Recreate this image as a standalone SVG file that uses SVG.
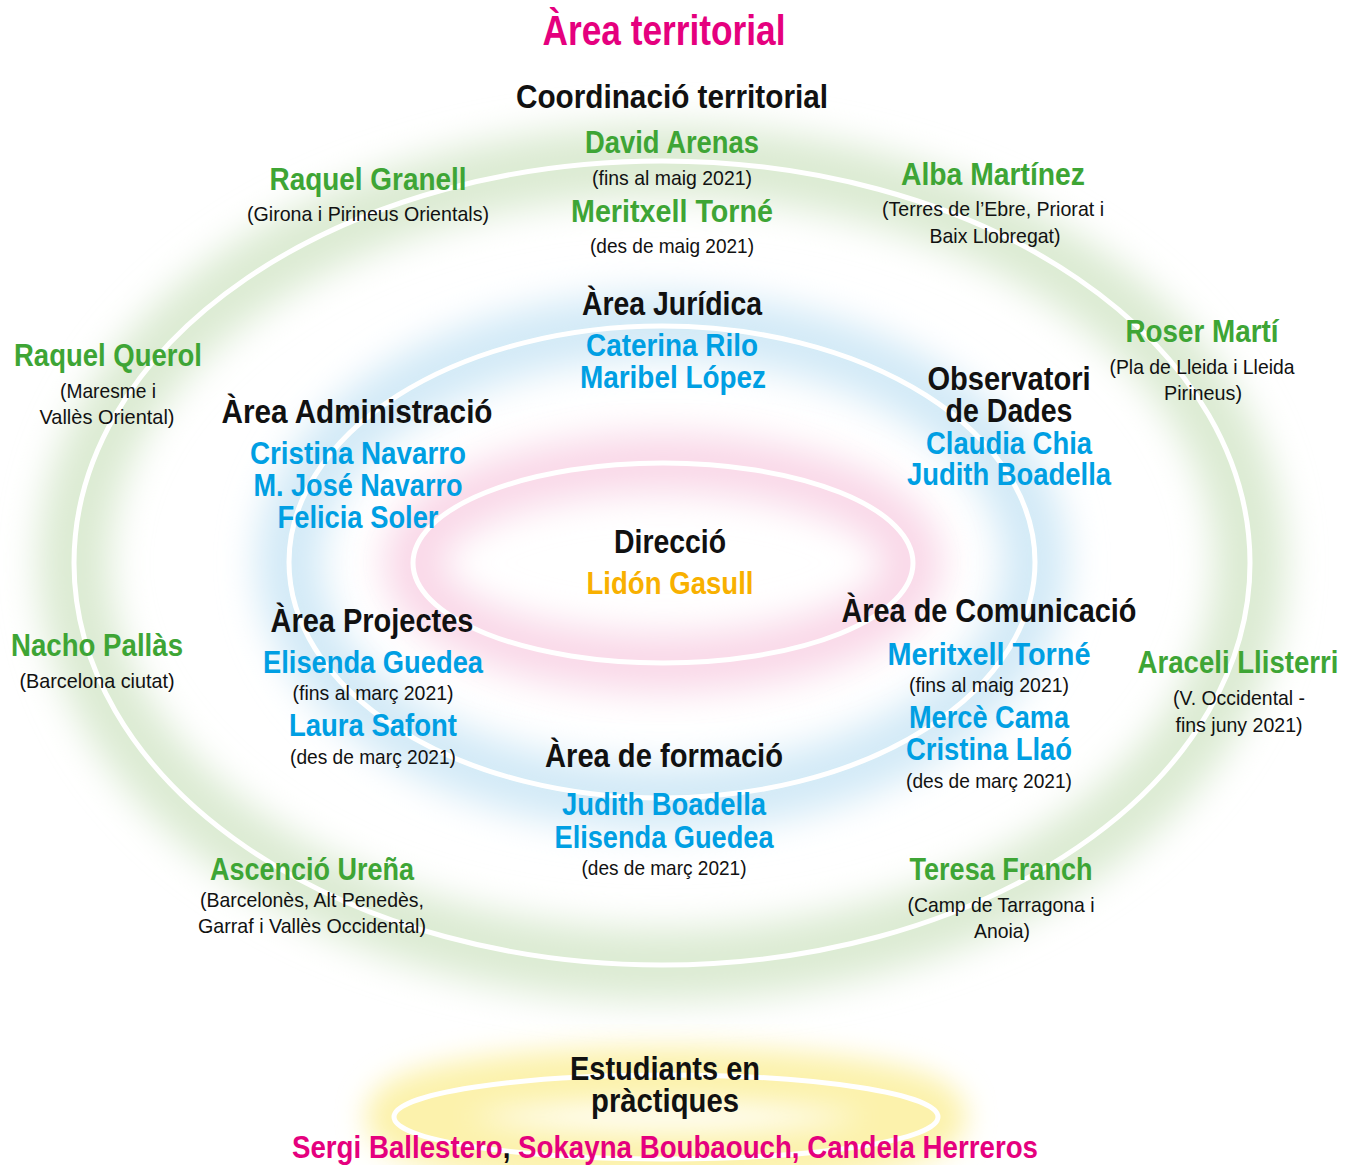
<svg xmlns="http://www.w3.org/2000/svg" width="1357" height="1165" viewBox="0 0 1357 1165">
<defs>
<filter id="glow" x="-30%" y="-30%" width="160%" height="160%"><feGaussianBlur stdDeviation="18"/></filter>
<filter id="glowS" x="-30%" y="-60%" width="160%" height="220%"><feGaussianBlur stdDeviation="14"/></filter>
</defs>
<style>
text{font-family:"Liberation Sans",Arial,sans-serif;text-anchor:middle}
.ti{font-size:43px;font-weight:700;fill:#e5007e}
.h{font-size:34px;font-weight:700;fill:#111}
.n{font-size:32px;font-weight:700}
.g{fill:#3ea535}
.b{fill:#009fe3}
.o{fill:#f8b000}
.p{fill:#e5007e}
.k{fill:#111}
.s{font-size:21px;fill:#111}
.ring{fill:none;stroke:#fff;stroke-width:5}
</style>
<rect width="1357" height="1165" fill="#fff"/>
<g id="rings">
<ellipse cx="662" cy="563" rx="588" ry="402" fill="none" stroke="#dcebd3" stroke-width="72" filter="url(#glow)"/>
<ellipse cx="662" cy="562" rx="373" ry="236" fill="none" stroke="#d3eaf7" stroke-width="66" filter="url(#glow)"/>
<ellipse cx="663" cy="563" rx="250" ry="100" fill="none" stroke="#f9d8e8" stroke-width="58" filter="url(#glow)"/>
<ellipse cx="666" cy="1117" rx="272" ry="42" fill="none" stroke="#fcf2ac" stroke-width="56" filter="url(#glowS)"/>
<ellipse class="ring" cx="662" cy="563" rx="588" ry="402"/>
<ellipse class="ring" cx="662" cy="562" rx="373" ry="236"/>
<ellipse class="ring" cx="663" cy="563" rx="250" ry="100"/>
<ellipse class="ring" cx="666" cy="1117" rx="272" ry="42"/>
</g>
<g id="title"><text class="ti" x="664" y="45" textLength="243" lengthAdjust="spacingAndGlyphs">Àrea territorial</text></g>
<g id="coordinacio">
<text class="h" x="672" y="108" textLength="312" lengthAdjust="spacingAndGlyphs">Coordinació territorial</text>
<text class="n g" x="672" y="153" textLength="174" lengthAdjust="spacingAndGlyphs">David Arenas</text>
<text class="s" x="672" y="185" textLength="160" lengthAdjust="spacingAndGlyphs">(fins al maig 2021)</text>
<text class="n g" x="672" y="222" textLength="202" lengthAdjust="spacingAndGlyphs">Meritxell Torné</text>
<text class="s" x="672" y="253" textLength="164" lengthAdjust="spacingAndGlyphs">(des de maig 2021)</text>
</g>
<g id="granell">
<text class="n g" x="368" y="190" textLength="197" lengthAdjust="spacingAndGlyphs">Raquel Granell</text>
<text class="s" x="368" y="221" textLength="242" lengthAdjust="spacingAndGlyphs">(Girona i Pirineus Orientals)</text>
</g>
<g id="martinez">
<text class="n g" x="993" y="185" textLength="184" lengthAdjust="spacingAndGlyphs">Alba Martínez</text>
<text class="s" x="993" y="216" textLength="222" lengthAdjust="spacingAndGlyphs">(Terres de l’Ebre, Priorat i</text>
<text class="s" x="995" y="243" textLength="131" lengthAdjust="spacingAndGlyphs">Baix Llobregat)</text>
</g>
<g id="juridica">
<text class="h" x="672" y="315" textLength="180" lengthAdjust="spacingAndGlyphs">Àrea Jurídica</text>
<text class="n b" x="672" y="356" textLength="172" lengthAdjust="spacingAndGlyphs">Caterina Rilo</text>
<text class="n b" x="673" y="388" textLength="186" lengthAdjust="spacingAndGlyphs">Maribel López</text>
</g>
<g id="marti">
<text class="n g" x="1202" y="342" textLength="153" lengthAdjust="spacingAndGlyphs">Roser Martí</text>
<text class="s" x="1202" y="374" textLength="185" lengthAdjust="spacingAndGlyphs">(Pla de Lleida i Lleida</text>
<text class="s" x="1203" y="400" textLength="78" lengthAdjust="spacingAndGlyphs">Pirineus)</text>
</g>
<g id="querol">
<text class="n g" x="108" y="366" textLength="188" lengthAdjust="spacingAndGlyphs">Raquel Querol</text>
<text class="s" x="108" y="398" textLength="96" lengthAdjust="spacingAndGlyphs">(Maresme i</text>
<text class="s" x="107" y="424" textLength="135" lengthAdjust="spacingAndGlyphs">Vallès Oriental)</text>
</g>
<g id="administracio">
<text class="h" x="357" y="423" textLength="271" lengthAdjust="spacingAndGlyphs">Àrea Administració</text>
<text class="n b" x="358" y="464" textLength="216" lengthAdjust="spacingAndGlyphs">Cristina Navarro</text>
<text class="n b" x="358" y="496" textLength="209" lengthAdjust="spacingAndGlyphs">M. José Navarro</text>
<text class="n b" x="358" y="528" textLength="161" lengthAdjust="spacingAndGlyphs">Felicia Soler</text>
</g>
<g id="observatori">
<text class="h" x="1009" y="390" textLength="163" lengthAdjust="spacingAndGlyphs">Observatori</text>
<text class="h" x="1009" y="422" textLength="127" lengthAdjust="spacingAndGlyphs">de Dades</text>
<text class="n b" x="1009" y="454" textLength="166" lengthAdjust="spacingAndGlyphs">Claudia Chia</text>
<text class="n b" x="1009" y="485" textLength="204" lengthAdjust="spacingAndGlyphs">Judith Boadella</text>
</g>
<g id="direccio">
<text class="h" x="670" y="553" textLength="112" lengthAdjust="spacingAndGlyphs">Direcció</text>
<text class="n o" x="670" y="594" textLength="167" lengthAdjust="spacingAndGlyphs">Lidón Gasull</text>
</g>
<g id="projectes">
<text class="h" x="372" y="632" textLength="203" lengthAdjust="spacingAndGlyphs">Àrea Projectes</text>
<text class="n b" x="373" y="673" textLength="220" lengthAdjust="spacingAndGlyphs">Elisenda Guedea</text>
<text class="s" x="373" y="700" textLength="161" lengthAdjust="spacingAndGlyphs">(fins al març 2021)</text>
<text class="n b" x="373" y="736" textLength="168" lengthAdjust="spacingAndGlyphs">Laura Safont</text>
<text class="s" x="373" y="764" textLength="166" lengthAdjust="spacingAndGlyphs">(des de març 2021)</text>
</g>
<g id="comunicacio">
<text class="h" x="989" y="622" textLength="295" lengthAdjust="spacingAndGlyphs">Àrea de Comunicació</text>
<text class="n b" x="989" y="665" textLength="203" lengthAdjust="spacingAndGlyphs">Meritxell Torné</text>
<text class="s" x="989" y="692" textLength="160" lengthAdjust="spacingAndGlyphs">(fins al maig 2021)</text>
<text class="n b" x="989" y="728" textLength="160" lengthAdjust="spacingAndGlyphs">Mercè Cama</text>
<text class="n b" x="989" y="760" textLength="166" lengthAdjust="spacingAndGlyphs">Cristina Llaó</text>
<text class="s" x="989" y="788" textLength="166" lengthAdjust="spacingAndGlyphs">(des de març 2021)</text>
</g>
<g id="pallas">
<text class="n g" x="97" y="656" textLength="172" lengthAdjust="spacingAndGlyphs">Nacho Pallàs</text>
<text class="s" x="97" y="688" textLength="155" lengthAdjust="spacingAndGlyphs">(Barcelona ciutat)</text>
</g>
<g id="llisterri">
<text class="n g" x="1238" y="673" textLength="201" lengthAdjust="spacingAndGlyphs">Araceli Llisterri</text>
<text class="s" x="1239" y="705" textLength="132" lengthAdjust="spacingAndGlyphs">(V. Occidental -</text>
<text class="s" x="1239" y="732" textLength="127" lengthAdjust="spacingAndGlyphs">fins juny 2021)</text>
</g>
<g id="formacio">
<text class="h" x="664" y="767" textLength="238" lengthAdjust="spacingAndGlyphs">Àrea de formació</text>
<text class="n b" x="664" y="815" textLength="204" lengthAdjust="spacingAndGlyphs">Judith Boadella</text>
<text class="n b" x="664" y="848" textLength="219" lengthAdjust="spacingAndGlyphs">Elisenda Guedea</text>
<text class="s" x="664" y="875" textLength="165" lengthAdjust="spacingAndGlyphs">(des de març 2021)</text>
</g>
<g id="urena">
<text class="n g" x="312" y="880" textLength="204" lengthAdjust="spacingAndGlyphs">Ascenció Ureña</text>
<text class="s" x="312" y="907" textLength="224" lengthAdjust="spacingAndGlyphs">(Barcelonès, Alt Penedès,</text>
<text class="s" x="312" y="933" textLength="228" lengthAdjust="spacingAndGlyphs">Garraf i Vallès Occidental)</text>
</g>
<g id="franch">
<text class="n g" x="1001" y="880" textLength="183" lengthAdjust="spacingAndGlyphs">Teresa Franch</text>
<text class="s" x="1001" y="912" textLength="187" lengthAdjust="spacingAndGlyphs">(Camp de Tarragona i</text>
<text class="s" x="1002" y="938" textLength="56" lengthAdjust="spacingAndGlyphs">Anoia)</text>
</g>
<g id="estudiants">
<text class="h" x="665" y="1080" textLength="190" lengthAdjust="spacingAndGlyphs">Estudiants en</text>
<text class="h" x="665" y="1112" textLength="148" lengthAdjust="spacingAndGlyphs">pràctiques</text>
<text class="n p" x="665" y="1158" textLength="746" lengthAdjust="spacingAndGlyphs">Sergi Ballestero<tspan class="k">,</tspan> Sokayna Boubaouch, Candela Herreros</text>
</g>
</svg>
